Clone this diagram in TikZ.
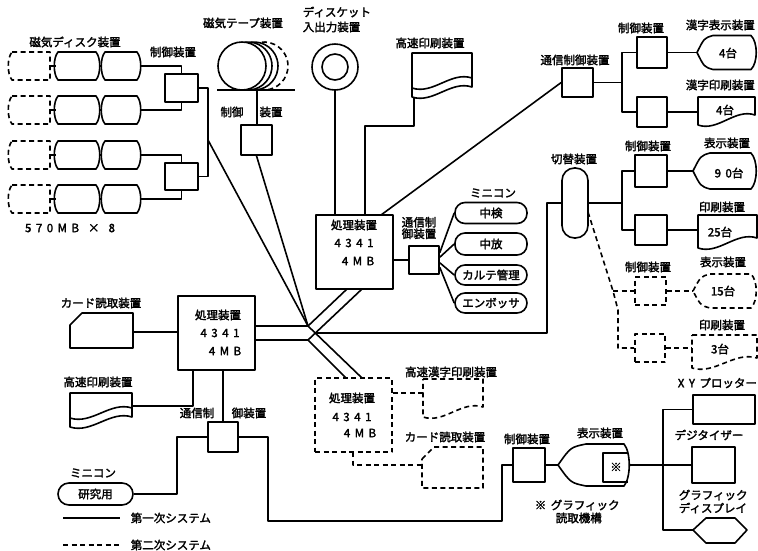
\documentclass[tikz,border=0pt]{standalone}
\usepackage{fontspec}
\setmainfont{Noto Sans CJK JP}[FakeBold=2.2]
\usetikzlibrary{calc}
\newcommand\dgap{\hspace{4.5pt}}
\newcommand\drumshape[3]{%
  \draw ({#1},{#3-14}) -- ({#2},{#3-14}) .. controls ({#2+5},{#3-8}) and ({#2+5},{#3+8}) .. ({#2},{#3+14})
     -- ({#1},{#3+14}) .. controls ({#1-5},{#3+8}) and ({#1-5},{#3-8}) .. ({#1},{#3-14}) -- cycle;}
\newcommand\ddiskshape[3]{%
  \draw[dsh] ({#1+4},{#3-14}) -- ({#2},{#3-14}) -- ({#2},{#3+14}) -- ({#1+4},{#3+14})
     .. controls ({#1-1},{#3+8}) and ({#1-1},{#3-8}) .. ({#1+4},{#3-14});}
\newcommand\prshape[5]{%
  \draw[#1] ({#2},{#3}) -- ({#4},{#3}) -- ({#4},{#5-10})
    .. controls ({#2+0.65*(#4-#2)},{#5-17}) and ({#2+0.35*(#4-#2)},{#5+7}) .. ({#2},{#5}) -- cycle;}
\newcommand\prwave[4]{%
  \draw[#1] ({#2},{#4-9}) .. controls ({#2+0.35*(#3-#2)},{#4-2}) and ({#2+0.65*(#3-#2)},{#4-26}) .. ({#3},{#4-19});}
\newcommand\dispshape[6]{%
  \draw[#1] ({#2},{#3}) .. controls ({#2+0.45*#6},{#3-0.85*#5}) .. ({#2+#6},{#3-#5}) -- ({#4-6},{#3-#5})
    .. controls ({#4+1},{#3-0.6*#5}) and ({#4+1},{#3+0.6*#5}) .. ({#4-6},{#3+#5}) -- ({#2+#6},{#3+#5})
    .. controls ({#2+0.45*#6},{#3+0.85*#5}) .. ({#2},{#3}) -- cycle;}
\newcommand\cardshape[5]{%
  \draw[#1] ({#2},{#3+12}) -- ({#2+12},{#3}) -- ({#4},{#3}) -- ({#4},{#5}) -- ({#2},{#5}) -- cycle;}
\begin{document}
\begin{tikzpicture}[x=1pt,y=-1pt,line width=1.6pt,line join=round,
  box/.style={draw,rectangle,inner sep=0pt,line width=1.6pt},
  dsh/.style={dash pattern=on 5pt off 3.5pt},
  dbox/.style={box,dsh},
  lbl/.style={inner sep=0pt,font=\fontsize{11.5}{13}\selectfont},
  mini/.style={draw,line width=1.6pt,rounded corners=10pt,minimum width=72pt,inner sep=0pt,font=\fontsize{11.5}{13}\selectfont}]
\useasboundingbox[fill=white] (0,0) rectangle (758,550);

% ---------- magnetic disks
\node[lbl] (tdisk) at (75,42) {磁気ディスク装置};
\foreach \yy [count=\i] in {66,110,155,199}{
  \ddiskshape{8}{50}{\yy}
  \draw (50,\yy) -- (56,\yy);
  \drumshape{58}{96}{\yy}
  \draw (99,\yy) -- (102,\yy);
  \drumshape{105}{137}{\yy}
  \coordinate (dr\i) at (141,\yy);
}
\node[lbl] (tdiskn) at (70,228) {5\dgap 7\dgap 0\dgap M\dgap B\dgap\dgap ×\dgap\dgap 8};
\node[lbl] (tdc) at (173,52) {制御装置};
\node[box,minimum width=33pt,minimum height=28pt] (dc1) at (181.5,88) {};
\node[box,minimum width=33pt,minimum height=27pt] (dc2) at (181.5,176.5) {};
\draw (dr1) -| (dc1.north);
\draw (dr2) -| (dc1.south);
\draw (dr3) -| (dc2.north);
\draw (dr4) -| (dc2.south);
\coordinate (dbT) at (208,88);
\coordinate (dbB) at (208,176.5);
\coordinate (dtap) at (208,140);
\draw (dc1.east) -- (dbT) -- (dbB) -- (dc2.east);

% ---------- magnetic tape
\node[lbl] (ttape) at (243,23) {磁気テープ装置};
\draw (242,66) circle[radius=24];
\draw ([shift={(97:24)}] 248,66) arc[start angle=97,end angle=-97,radius=24];
\draw ([shift={(97:24)}] 254,66) arc[start angle=97,end angle=-97,radius=24];
\draw[dsh] ([shift={(100:24)}] 264,66) arc[start angle=100,end angle=-100,radius=24];
\draw (217,90) -- (295,90);
\node[box,minimum width=31pt,minimum height=30pt] (tb) at (256.5,140) {};
\coordinate (tapeB) at (257,90);
\draw (tapeB) -- (tapeB |- tb.north);
\node[lbl] (ttc1) at (232,112) {制御};
\node[lbl] (ttc2) at (271,112) {装置};

% ---------- diskette
\node[lbl,anchor=west] (tdsk1) at (302,12) {ディスケット};
\node[lbl,anchor=west] (tdsk2) at (302,27) {入出力装置};
\draw (335,67) circle[radius=23];
\draw (335,67) circle[radius=13];
\coordinate (dkB) at (335,90);

% ---------- upper processor
\node[box,minimum width=77pt,minimum height=74pt] (p1) at (354.5,252) {};
\node[lbl] (p1a) at (354,225) {処理装置};
\node[lbl] (p1b) at (354,243) {4\dgap 3\dgap 4\dgap 1};
\node[lbl] (p1c) at (358,261) {4\dgap M\dgap B};
\draw (dkB) -- (dkB |- p1.north);

% ---------- high speed printer (top)
\node[lbl] (tprt) at (430,43) {高速印刷装置};
\prshape{}{412}{53}{472}{97}
\prwave{}{412}{472}{97}
\coordinate (prtB) at (414,97);
\coordinate (prtK) at (414,126);
\coordinate (p1n2) at (365,215);
\draw (prtB) -- (prtK) -| (p1n2);

% ---------- communication control (top right)
\coordinate (p1n3) at (381,215);
\node[box,minimum width=31pt,minimum height=29pt] (cc1) at (577.5,82.5) {};
\node[lbl] (tcc1) at (575,60) {通信制御装置};
\draw (p1n3) -- (cc1.west);
\coordinate (bus1) at (622,82.5);
\draw (cc1.east) -- (bus1);
\node[box,minimum width=30pt,minimum height=31pt] (ct1) at (652,52.5) {};
\node[box,minimum width=30pt,minimum height=30pt] (ct2) at (652,112) {};
\node[lbl] (tct1) at (641,28) {制御装置};
\draw (ct1.west) -| (bus1) |- (ct2.west);
\dispshape{}{697}{52.5}{757}{17}{16}
\coordinate (kdL) at (697,52.5);
\draw (ct1.east) -- (kdL);
\node[lbl,anchor=west] (tkd) at (685,25) {漢字表示装置};
\node[lbl] (tkd4) at (728,53) {4台};
\prshape{}{698}{97}{755}{125}
\coordinate (kpL) at (698,112);
\draw (ct2.east) -- (kpL);
\node[lbl,anchor=west] (tkp) at (685,85) {漢字印刷装置};
\node[lbl] (tkp4) at (725,110) {4台};

% ---------- mini computers
\node[box,minimum width=30pt,minimum height=28pt] (mc) at (424,260) {};
\draw (mc.west) -- (mc.west -| p1.east);
\node[lbl,align=center,font=\fontsize{11.5}{11.5}\selectfont] (tmc) at (419,228) {通信制\\御装置};
\node[lbl] (tmini) at (493,193) {ミニコン};
\node[mini,minimum height=21pt] (m1) at (491,213) {中検};
\node[mini,minimum height=22pt] (m2) at (491,244) {中放};
\node[mini,minimum height=20pt] (m3) at (491,275) {カルテ管理};
\node[mini,minimum height=20pt] (m4) at (491,303) {エンボッサ};
\draw (mc.25) -- (m1.west);
\draw (mc.10) -- (m2.west);
\draw (mc.-10) -- (m3.west);
\draw (mc.-25) -- (m4.west);

% ---------- lower processor
\node[box,minimum width=77pt,minimum height=74pt] (p2) at (216.5,333) {};
\node[lbl] (p2a) at (218,315) {処理装置};
\node[lbl] (p2b) at (220,333) {4\dgap 3\dgap 4\dgap 1};
\node[lbl] (p2c) at (225,351) {4\dgap M\dgap B};

% ---------- dashed processor
\node[dbox,minimum width=77pt,minimum height=74pt] (p3) at (353.5,415) {};
\node[lbl] (p3a) at (352,398) {処理装置};
\node[lbl] (p3b) at (352,417) {4\dgap 3\dgap 4\dgap 1};
\node[lbl] (p3c) at (360,433) {4\dgap M\dgap B};

% ---------- hub
\coordinate (hubA) at (308,326);
\coordinate (hubC) at (308,340);
\coordinate (hubX) at (315.3,333);
\coordinate (p1s1) at (347,289);
\coordinate (p1s2) at (362,289);
\coordinate (p3n1) at (346,378);
\coordinate (p3n2) at (362,378);
\draw (p2.east |- hubA) -- (hubA);
\draw (p2.east |- hubC) -- (hubC);
\draw (dtap) -- (hubA);
\draw (tb.south) -- (hubA);
\draw (hubA) -- (p1s1);
\draw (hubC) -- (p1s2);
\draw (hubA) -- (p3n2);
\draw (hubC) -- (p3n1);

% ---------- switch
\node[draw,line width=1.6pt,rounded corners=12.5pt,minimum width=26pt,minimum height=70pt,inner sep=0pt] (sw) at (575,203) {};
\node[lbl] (tsw) at (574,159) {切替装置};
\coordinate (swC) at (547,333);
\draw (hubX) -- (swC) |- (sw.west);
\coordinate (bus2) at (622,203);
\draw (sw.east) -- (bus2);
\node[box,minimum width=32pt,minimum height=32pt] (ct3) at (651,171) {};
\node[box,minimum width=32pt,minimum height=30pt] (ct4) at (651,230) {};
\node[lbl] (tct3) at (648,146) {制御装置};
\draw (ct3.west) -| (bus2) |- (ct4.west);
\dispshape{}{693}{171}{757}{18}{17}
\coordinate (d90L) at (693,171);
\draw (ct3.east) -- (d90L);
\node[lbl] (td90) at (727,143) {表示装置};
\node[lbl] (td90n) at (729,173) {9\dgap 0台};
\prshape{}{698}{215}{757}{248}
\coordinate (p25L) at (698,230);
\draw (ct4.east) -- (p25L);
\node[lbl] (tp25) at (722,207) {印刷装置};
\node[lbl] (tp25n) at (720,232) {25台};

% ---------- dashed branch
\coordinate (swD) at (588,212);
\coordinate (dbr1) at (613,291);
\coordinate (dbr2) at (618,310);
\coordinate (dbr3) at (618,348);
\node[dbox,minimum width=31pt,minimum height=28pt] (dc3) at (650.5,291) {};
\node[dbox,minimum width=30pt,minimum height=28pt] (dc4) at (650,348) {};
\draw[dsh] (swD) -- (dbr1) -- (dbr2) -- (dbr3) -- (dc4.west);
\draw[dsh] (dbr1) -- (dc3.west);
\node[lbl] (tdc3) at (648,267) {制御装置};
\dispshape{dsh}{693}{291}{757}{17}{17}
\coordinate (d15L) at (693,291);
\draw[dsh] (dc3.east) -- (d15L);
\node[lbl] (td15) at (723,262) {表示装置};
\node[lbl] (td15n) at (723,291) {15台};
\prshape{dsh}{692}{335}{757}{368}
\coordinate (p3L) at (692,348);
\draw[dsh] (dc4.east) -- (p3L);
\node[lbl] (tp3) at (722,325) {印刷装置};
\node[lbl] (tp3n) at (720,349) {3台};

% ---------- lower left peripherals
\node[lbl] (tcard) at (101,303) {カード読取装置};
\cardshape{}{70}{313}{133}{348}
\coordinate (cardR) at (133,332);
\draw (cardR) -- (cardR -| p2.west);
\node[lbl] (tlp) at (98,382) {高速印刷装置};
\prshape{}{70}{393}{132}{427}
\prwave{}{70}{132}{427}
\coordinate (lpR) at (132,406);
\coordinate (p2s1) at (193,370);
\draw (lpR) -| (p2s1);
\coordinate (p2s2) at (223,370);
\node[box,minimum width=30pt,minimum height=30pt] (cc2) at (223,437) {};
\draw (p2s2) -- (cc2.north);
\node[lbl] (tcc2a) at (197,413) {通信制};
\node[lbl] (tcc2b) at (249,413) {御装置};
\node[mini,minimum width=75pt,minimum height=22pt,rounded corners=11pt] (mk) at (95.5,494) {研究用};
\node[lbl] (tmk) at (93,473) {ミニコン};
\coordinate (lk1) at (177,437);
\draw (cc2.west) -- (lk1) |- (mk.east);
\coordinate (lk2) at (268,437);
\coordinate (lk3) at (268,521);
\coordinate (lk4) at (502,521);
\node[box,minimum width=32pt,minimum height=34pt] (ct5) at (529,465) {};
\draw (cc2.east) -- (lk2) -- (lk3) -- (lk4) |- (ct5.west);

% ---------- dashed peripherals
\node[lbl] (tkp2) at (451,372) {高速漢字印刷装置};
\prshape{dsh}{423}{379}{483}{417}
\coordinate (kp2L) at (423,393);
\draw[dsh] (kp2L -| p3.east) -- (kp2L);
\node[lbl] (tcard2) at (445,437) {カード読取装置};
\cardshape{dsh}{422}{447}{483}{488}
\coordinate (p3s) at (353,452);
\coordinate (c2L) at (422,465);
\draw[dsh] (p3s) |- (c2L);

% ---------- graphic display
\node[lbl] (tct5) at (527,439) {制御装置};
\dispshape{}{558}{465}{630}{21}{28}
\coordinate (gdL) at (558,465);
\coordinate (gdR) at (629,465);
\draw (ct5.east) -- (gdL);
\draw (628,453) -- (603,453) -- (603,482) -- (628,482);
\node[lbl] (tast) at (616,467) {※};
\node[lbl] (tgd) at (600,433) {表示装置};
\node[box,minimum width=62pt,minimum height=29pt] (xy) at (724,409.5) {};
\node[box,minimum width=43pt,minimum height=36pt] (dig) at (713.5,465) {};
\coordinate (busB) at (663,530);
\coordinate (hexL) at (693,530);
\draw (gdR) -- (dig.west);
\draw (xy.west) -| (busB) -- (hexL);
\draw (693,530) -- (706,518) -- (735,518) -- (747,530) -- (735,543) -- (706,543) -- cycle;
\node[lbl,anchor=west] (txy) at (677,383) {X\dgap Y\dgap プロッター};
\node[lbl] (tdig) at (709,435) {デジタイザー};
\node[lbl,anchor=west] (tgd1) at (678,495) {グラフィック};
\node[lbl,anchor=west] (tgd2) at (678,508) {ディスプレイ};
\node[lbl,anchor=west] (tnote1) at (534,505) {※\dgap グラフィック};
\node[lbl,anchor=west] (tnote2) at (555,518) {読取機構};

% ---------- legend
\coordinate (lg1) at (63,518);
\coordinate (lg2) at (120,518);
\draw (lg1) -- (lg2);
\node[lbl,anchor=west] (tlg1) at (130,518) {第一次システム};
\coordinate (lg3) at (63,545);
\coordinate (lg4) at (120,545);
\draw[dsh] (lg3) -- (lg4);
\node[lbl,anchor=west] (tlg2) at (130,545) {第二次システム};
\end{tikzpicture}
\end{document}
